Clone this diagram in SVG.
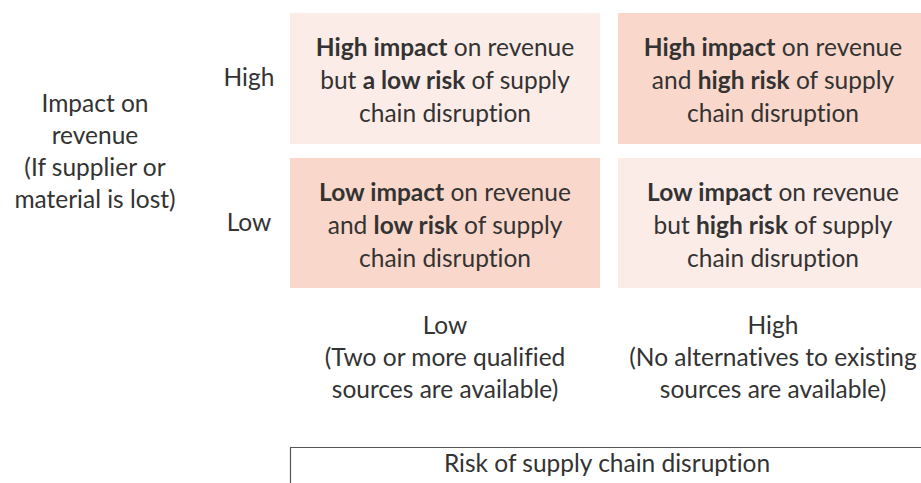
<svg xmlns="http://www.w3.org/2000/svg" width="921" height="483" viewBox="0 0 921 483">
<style>
text{font-family:Lato,"Open Sans","Liberation Sans",sans-serif;font-size:24.5px;fill:#333;text-anchor:middle;font-variant-ligatures:none;font-feature-settings:"liga" 0}
.b{font-weight:bold}
.light{fill:#FCECE7}
.dark{fill:#F9D8CB}
.ln{stroke:#555;stroke-width:1.2;fill:none}
</style>
<rect width="921" height="483" fill="#fff"/>
<g id="y-axis-label">
<text x="95" y="112">Impact on</text>
<text x="95" y="144">revenue</text>
<text x="95" y="176">(If supplier or</text>
<text x="95" y="208">material is lost)</text>
</g>
<g id="y-high"><text x="249" y="86">High</text></g>
<g id="y-low"><text x="249" y="231">Low</text></g>
<g id="q-high-low">
<rect class="light" x="290" y="13" width="310" height="131"/>
<text x="445" y="56"><tspan class="b">High impact</tspan> on revenue</text>
<text x="445" y="89">but <tspan class="b">a low risk</tspan> of supply</text>
<text x="445" y="122">chain disruption</text>
</g>
<g id="q-high-high">
<rect class="dark" x="618" y="13" width="310" height="131"/>
<text x="773" y="56"><tspan class="b">High impact</tspan> on revenue</text>
<text x="773" y="89">and <tspan class="b">high risk</tspan> of supply</text>
<text x="773" y="122">chain disruption</text>
</g>
<g id="q-low-low">
<rect class="dark" x="290" y="158" width="310" height="130"/>
<text x="445" y="201"><tspan class="b">Low impact</tspan> on revenue</text>
<text x="445" y="234"><tspan>and </tspan><tspan class="b">low risk</tspan> of supply</text>
<text x="445" y="267">chain disruption</text>
</g>
<g id="q-low-high">
<rect class="light" x="618" y="158" width="310" height="130"/>
<text x="773" y="201"><tspan class="b">Low impact</tspan> on revenue</text>
<text x="773" y="234">but <tspan class="b">high risk</tspan> of supply</text>
<text x="773" y="267">chain disruption</text>
</g>
<g id="x-low">
<text x="445" y="334">Low</text>
<text x="445" y="366">(Two or more qualified</text>
<text x="445" y="398">sources are available)</text>
</g>
<g id="x-high">
<text x="773" y="334">High</text>
<text x="773" y="366">(No alternatives to existing</text>
<text x="773" y="398">sources are available)</text>
</g>
<g id="connectors">
<path class="ln" d="M290.5 483 V447.5 H921"/>
</g>
<g id="x-axis-label"><text x="607" y="472">Risk of supply chain disruption</text></g>
</svg>
